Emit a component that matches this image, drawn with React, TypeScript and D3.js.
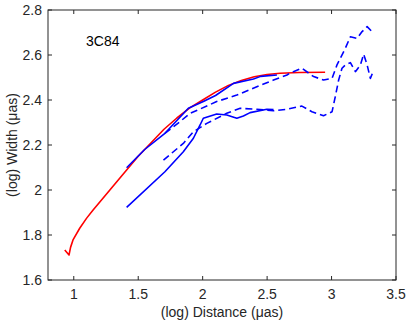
import { useRef, useEffect } from 'react';
import * as d3 from 'd3';

type Pt = [number, number];

// log distance / log width
const fitModel: Pt[] = [
  [0.93, 1.733], [0.963, 1.711], [0.975, 1.745], [0.994, 1.778], [1.046, 1.83],
  [1.1, 1.875], [1.15, 1.911], [1.28, 2.0], [1.41, 2.089], [1.5, 2.15],
  [1.6, 2.21], [1.7, 2.27], [1.8, 2.32], [1.9, 2.365], [2.0, 2.4],
  [2.1, 2.435], [2.2, 2.465], [2.3, 2.487], [2.4, 2.503], [2.5, 2.513],
  [2.6, 2.519], [2.75, 2.522], [2.95, 2.523],
];

const solidUpper: Pt[] = [
  [1.41, 2.099], [1.55, 2.18], [1.707, 2.252], [1.72, 2.26], [1.889, 2.363],
  [2.005, 2.393], [2.1, 2.42], [2.239, 2.474], [2.394, 2.493], [2.45, 2.505],
  [2.576, 2.511],
];

const solidLower: Pt[] = [
  [1.41, 1.923], [1.707, 2.081], [1.85, 2.17], [1.928, 2.23], [1.98, 2.289],
  [2.005, 2.319], [2.109, 2.338], [2.187, 2.333], [2.265, 2.319], [2.316, 2.329],
  [2.368, 2.344], [2.498, 2.359], [2.55, 2.358],
];

const dashedUpper: Pt[] = [
  [1.707, 2.252], [1.824, 2.304], [1.902, 2.341], [1.98, 2.36], [2.109, 2.393],
  [2.265, 2.422], [2.42, 2.459], [2.55, 2.489], [2.654, 2.511], [2.679, 2.52],
  [2.77, 2.541], [2.861, 2.504], [2.938, 2.489], [3.004, 2.496], [3.042, 2.556],
  [3.107, 2.63], [3.146, 2.681], [3.198, 2.674], [3.237, 2.704], [3.276, 2.726],
  [3.327, 2.696],
];

const dashedLower: Pt[] = [
  [1.696, 2.133], [1.85, 2.207], [1.928, 2.259], [2.032, 2.296], [2.187, 2.341],
  [2.291, 2.363], [2.42, 2.359], [2.55, 2.352], [2.654, 2.359], [2.77, 2.373],
  [2.848, 2.348], [2.938, 2.33], [3.004, 2.348], [3.029, 2.415], [3.055, 2.489],
  [3.081, 2.541], [3.107, 2.556], [3.146, 2.566], [3.185, 2.526], [3.224, 2.556],
  [3.249, 2.603], [3.276, 2.556], [3.301, 2.496], [3.327, 2.533],
];

const xTicks = [1, 1.5, 2, 2.5, 3, 3.5];
const yTicks = [1.6, 1.8, 2, 2.2, 2.4, 2.6, 2.8];

function App() {
  const svgRef = useRef<SVGSVGElement>(null);
  const width = 407;
  const height = 329;

  useEffect(() => {
    const margin = { top: 10, right: 11, bottom: 49, left: 48 };
    const font = '"Liberation Sans", Arial, Helvetica, sans-serif';
    const ink = '#262626';
    const svg = d3.select(svgRef.current);
    svg.selectAll('*').remove();

    const x = d3.scaleLinear().domain([0.8, 3.5]).range([margin.left, width - margin.right]);
    const y = d3.scaleLinear().domain([1.6, 2.8]).range([height - margin.bottom, margin.top]);

    const line = d3
      .line<Pt>()
      .x((d) => x(d[0]))
      .y((d) => y(d[1]));

    const series = [
      { data: fitModel, color: '#ff0000', dash: null },
      { data: dashedLower, color: '#0000ff', dash: '7,4' },
      { data: dashedUpper, color: '#0000ff', dash: '7,4' },
      { data: solidLower, color: '#0000ff', dash: null },
      { data: solidUpper, color: '#0000ff', dash: null },
    ];

    svg
      .selectAll('.series')
      .data(series)
      .join('path')
      .attr('class', 'series')
      .attr('d', (d) => line(d.data))
      .attr('fill', 'none')
      .attr('stroke', (d) => d.color)
      .attr('stroke-width', 1.6)
      .attr('stroke-dasharray', (d) => d.dash)
      .attr('stroke-linejoin', 'round');

    // box
    svg
      .append('rect')
      .attr('x', x(0.8))
      .attr('y', y(2.8))
      .attr('width', x(3.5) - x(0.8))
      .attr('height', y(1.6) - y(2.8))
      .attr('fill', 'none')
      .attr('stroke', ink)
      .attr('stroke-width', 1);

    const tick = 4;
    // x ticks, bottom and top, pointing inward
    xTicks.forEach((t) => {
      svg.append('line').attr('x1', x(t)).attr('x2', x(t))
        .attr('y1', y(1.6)).attr('y2', y(1.6) - tick).attr('stroke', ink);
      svg.append('line').attr('x1', x(t)).attr('x2', x(t))
        .attr('y1', y(2.8)).attr('y2', y(2.8) + tick).attr('stroke', ink);
    });
    yTicks.forEach((t) => {
      svg.append('line').attr('x1', x(0.8)).attr('x2', x(0.8) + tick)
        .attr('y1', y(t)).attr('y2', y(t)).attr('stroke', ink);
      svg.append('line').attr('x1', x(3.5)).attr('x2', x(3.5) - tick)
        .attr('y1', y(t)).attr('y2', y(t)).attr('stroke', ink);
    });

    svg
      .selectAll('.xlab')
      .data(xTicks)
      .join('text')
      .attr('class', 'xlab')
      .attr('x', (d) => x(d))
      .attr('y', 299)
      .attr('text-anchor', 'middle')
      .attr('fill', ink)
      .style('font-family', font)
      .style('font-size', '14px')
      .text((d) => String(d));

    svg
      .selectAll('.ylab')
      .data(yTicks)
      .join('text')
      .attr('class', 'ylab')
      .attr('x', 42)
      .attr('y', (d) => y(d) + 5)
      .attr('text-anchor', 'end')
      .attr('fill', ink)
      .style('font-family', font)
      .style('font-size', '14px')
      .text((d) => (d === 2 ? '2' : d.toFixed(1)));

    svg
      .append('text')
      .attr('x', (x(0.8) + x(3.5)) / 2)
      .attr('y', 317)
      .attr('text-anchor', 'middle')
      .attr('fill', ink)
      .style('font-family', font)
      .style('font-size', '14px')
      .text('(log) Distance (μas)');

    svg
      .append('text')
      .attr('transform', `translate(17,${(y(1.6) + y(2.8)) / 2}) rotate(-90)`)
      .attr('text-anchor', 'middle')
      .attr('fill', ink)
      .style('font-family', font)
      .style('font-size', '14px')
      .text('(log) Width (μas)');

    svg
      .append('text')
      .attr('x', 86)
      .attr('y', 45.5)
      .attr('fill', '#000')
      .style('font-family', font)
      .style('font-size', '14px')
      .text('3C84');
  }, []);

  return (
    <svg
      ref={svgRef}
      width={width}
      height={height}
      style={{ position: 'absolute', left: 0, top: 0, background: '#fff' }}
    ></svg>
  );
}

export default App;
